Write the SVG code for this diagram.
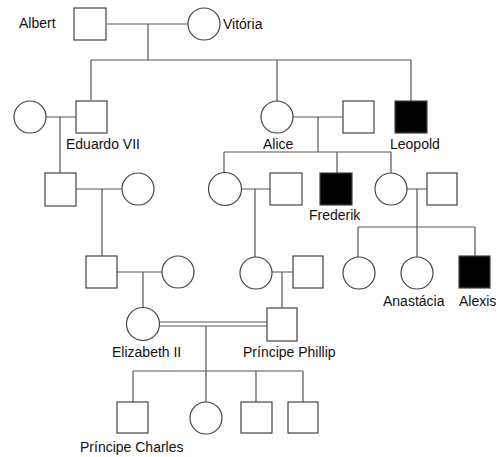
<svg xmlns="http://www.w3.org/2000/svg" width="498" height="457" viewBox="0 0 498 457">
<style>
.m{fill:#fff;stroke:#444;stroke-width:1.2}
.a{fill:#000;stroke:#444;stroke-width:1.2}
.f{fill:#fff;stroke:#444;stroke-width:1.2}
.c{fill:none;stroke:#555;stroke-width:1.2}
text{font-family:"Liberation Sans",Arial,sans-serif;font-size:14px;fill:#111}
</style>
<rect width="498" height="457" fill="#fff"/>
<g id="connectors">
<path class="c" d="M107,24H188M148,24V60M91,60H411M91,60V100M277,60V101M411,60V101"/>
<path class="c" d="M46,117H76M60,117V173M76,189H122M102,189V256M117,272H162M143,272V308"/>
<path class="c" d="M293,117H343M318,117V152M224,152H391M224,152V173M337,152V173M391,152V173"/>
<path class="c" d="M242,189H270M255,189V257M406,189H427M417,189V227M358,227H475M358,227V257M417,227V257M475,227V256"/>
<path class="c" d="M272,272H293M282,272V308"/>
<path class="c" d="M159,322H267M159,326H267M206,326V371M133,371H303M133,371V402M206,371V402M256,371V402M303,371V402"/>
</g>
<g id="albert"><rect class="m" x="74" y="8" width="32" height="32"/><text x="19" y="28">Albert</text></g>
<g id="vitoria"><circle class="f" cx="204" cy="24" r="16"/><text x="223" y="29">Vitória</text></g>
<g id="eduardo-wife"><circle class="f" cx="30" cy="117" r="16"/></g>
<g id="eduardo"><rect class="m" x="76" y="101" width="31" height="32"/><text x="66" y="149">Eduardo VII</text></g>
<g id="alice"><circle class="f" cx="277" cy="117" r="16"/><text x="263" y="149">Alice</text></g>
<g id="alice-husband"><rect class="m" x="343" y="101" width="31" height="32"/></g>
<g id="leopold"><rect class="a" x="395" y="101" width="32" height="32"/><text x="390" y="149">Leopold</text></g>
<g id="g3-son"><rect class="m" x="45" y="173" width="31" height="33"/></g>
<g id="g3-son-wife"><circle class="f" cx="138" cy="189" r="16"/></g>
<g id="alice-daughter1"><circle class="f" cx="225" cy="189" r="16.5"/></g>
<g id="alice-daughter1-husband"><rect class="m" x="270" y="173" width="32" height="32"/></g>
<g id="frederik"><rect class="a" x="320" y="173" width="32" height="32"/><text x="309" y="220">Frederik</text></g>
<g id="alice-daughter2"><circle class="f" cx="391" cy="189" r="16"/></g>
<g id="alice-daughter2-husband"><rect class="m" x="427" y="173" width="30" height="32"/></g>
<g id="g4-son"><rect class="m" x="86" y="256" width="31" height="32"/></g>
<g id="g4-son-wife"><circle class="f" cx="178" cy="272" r="16"/></g>
<g id="g4-daughter"><circle class="f" cx="256" cy="273" r="16"/></g>
<g id="g4-daughter-husband"><rect class="m" x="293" y="256" width="30" height="32"/></g>
<g id="romanov-daughter1"><circle class="f" cx="359" cy="273" r="16"/></g>
<g id="anastacia"><circle class="f" cx="417" cy="273" r="16"/><text x="383" y="306">Anastácia</text></g>
<g id="alexis"><rect class="a" x="459" y="256" width="31" height="32"/><text x="459" y="306">Alexis</text></g>
<g id="elizabeth"><circle class="f" cx="143" cy="324" r="16.5"/><text x="112" y="357">Elizabeth II</text></g>
<g id="phillip"><rect class="m" x="267" y="308" width="30" height="33"/><text x="243" y="357">Príncipe Phillip</text></g>
<g id="charles"><rect class="m" x="117" y="402" width="31" height="31"/><text x="80" y="452">Príncipe Charles</text></g>
<g id="anne"><circle class="f" cx="206" cy="418" r="16"/></g>
<g id="andrew"><rect class="m" x="241" y="402" width="31" height="31"/></g>
<g id="edward"><rect class="m" x="288" y="402" width="30" height="31"/></g>
</svg>
